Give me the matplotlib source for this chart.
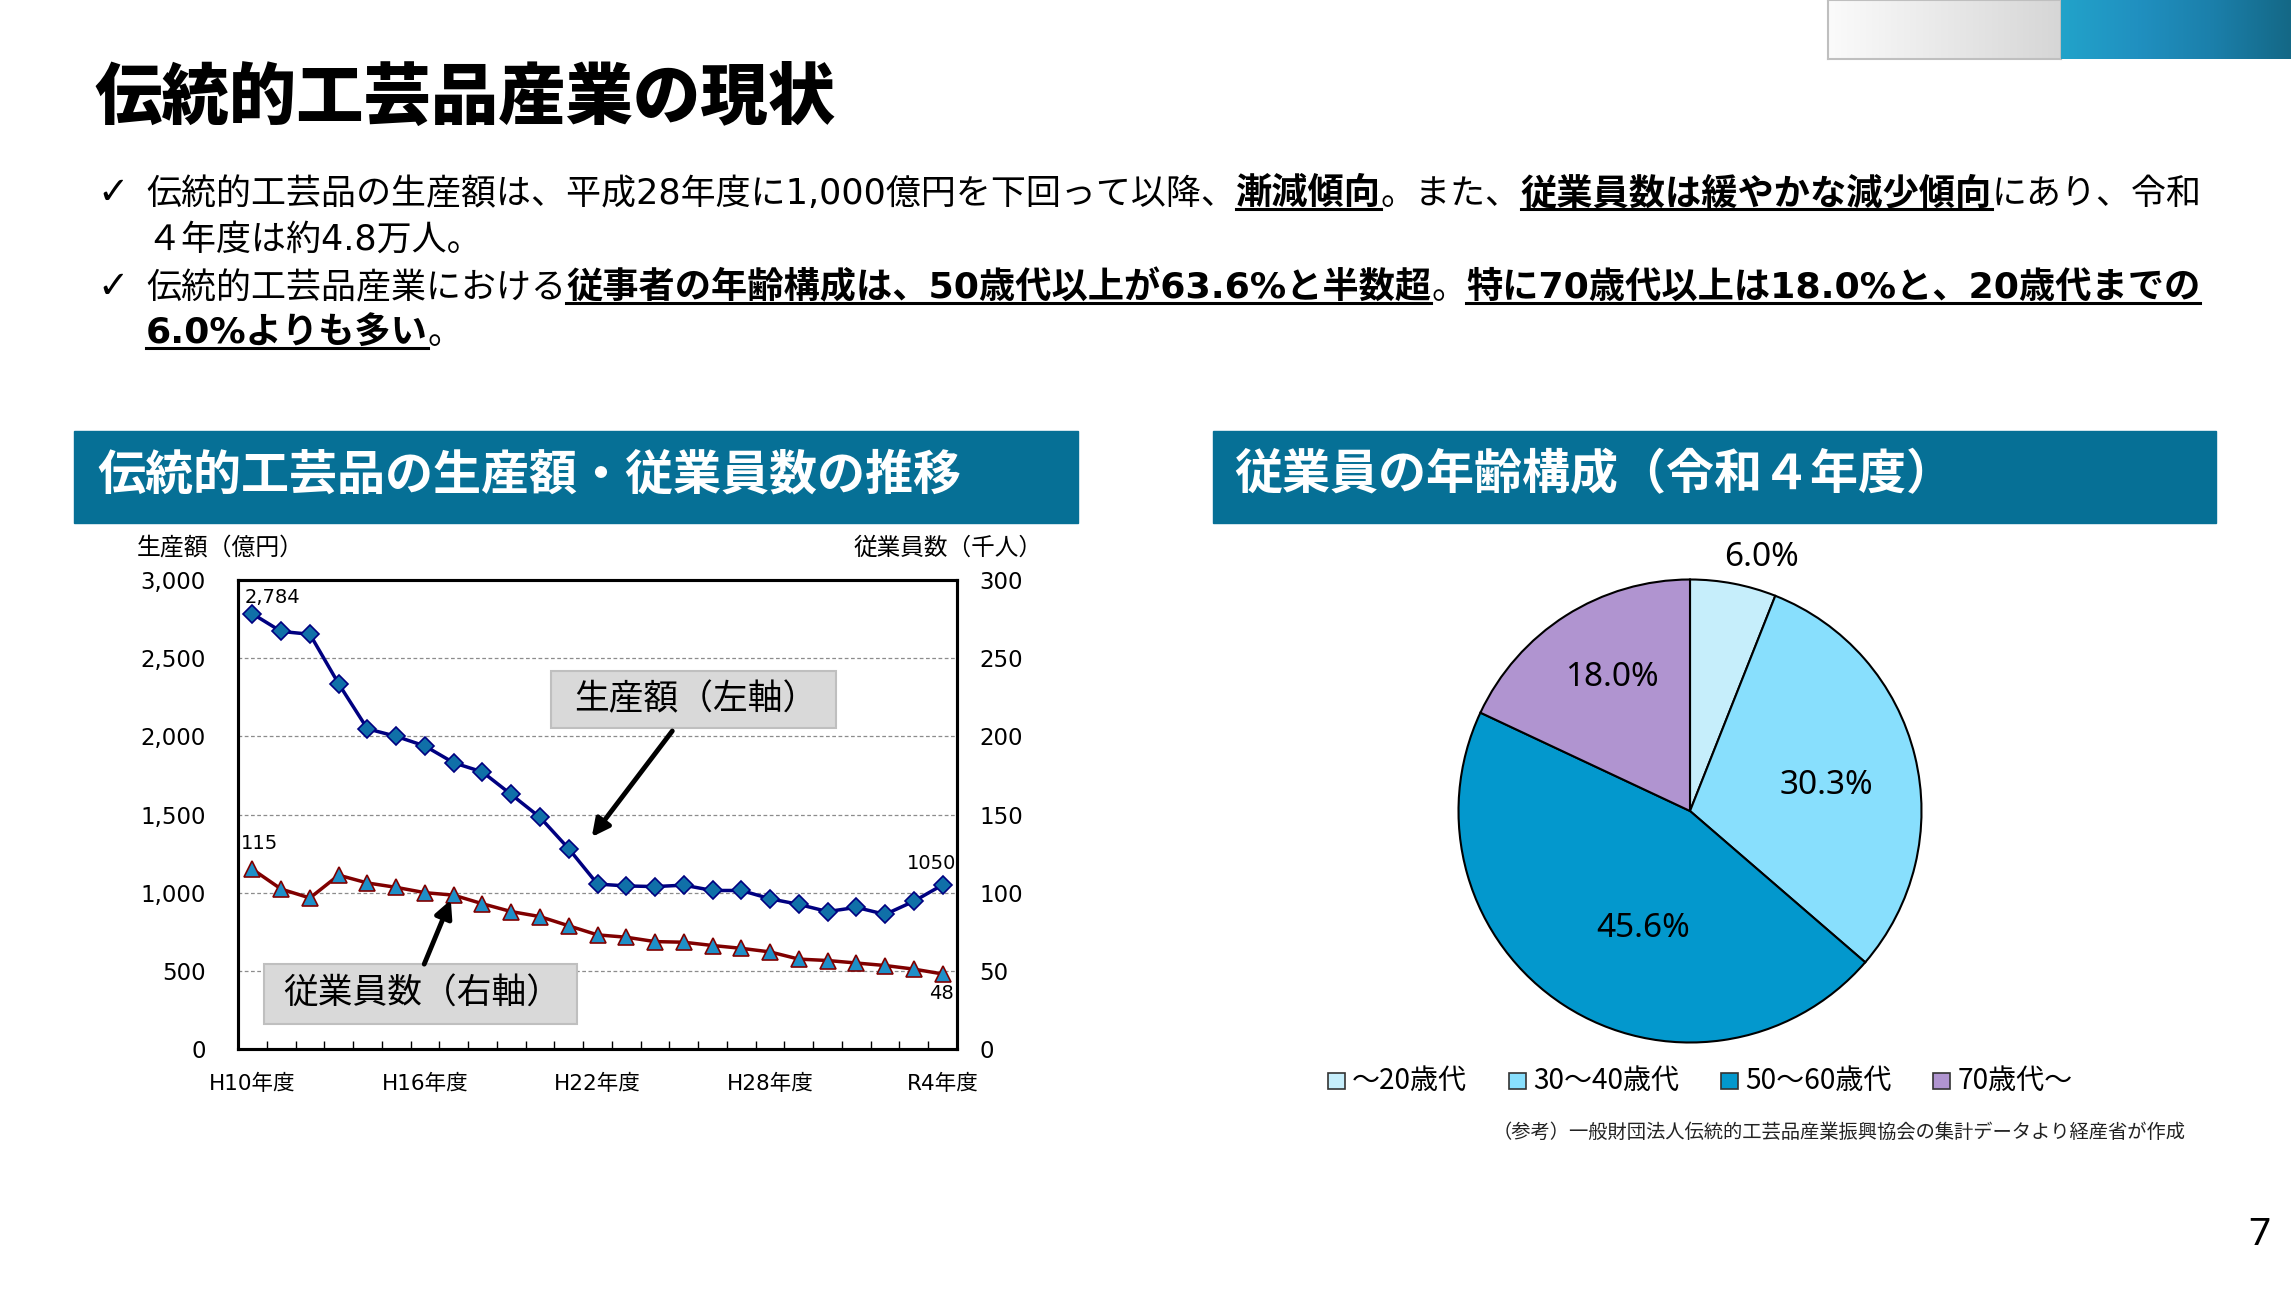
import numpy as np
import matplotlib
matplotlib.use('Agg')
from matplotlib import pyplot as plt
from matplotlib.patches import Rectangle
from matplotlib.lines import Line2D
from matplotlib.colors import LinearSegmentedColormap

plt.rcParams['font.family'] = ['Noto Sans CJK JP', 'DejaVu Sans']
LATIN = ['DejaVu Sans', 'Noto Sans CJK JP']

W, H = 2291, 1289

# 生産額・従業員数の推移
years = ['H10', 'H11', 'H12', 'H13', 'H14', 'H15', 'H16', 'H17', 'H18', 'H19',
         'H20', 'H21', 'H22', 'H23', 'H24', 'H25', 'H26', 'H27', 'H28', 'H29',
         'H30', 'R1', 'R2', 'R3', 'R4']
production = [2784, 2671, 2653, 2336, 2048, 2000, 1938, 1831, 1772, 1628,
              1482, 1281, 1055, 1043, 1039, 1048, 1014, 1014, 961, 925,
              879, 906, 861, 945, 1050]
employees = [115, 102.3, 96.6, 111.2, 106.2, 103.4, 100.0, 98.4, 92.9, 87.9,
             84.7, 78.8, 73.0, 71.5, 68.7, 68.3, 66.2, 64.4, 62.1, 57.5,
             56.6, 55.0, 53.4, 51.1, 48]
year_ticks = ['H10', 'H16', 'H22', 'H28', 'R4']

# 年齢構成
age_labels = ['～20歳代', '30～40歳代', '50～60歳代', '70歳代～']
age_share = [6.0, 30.3, 45.6, 18.0]
age_colors = ['#C6EEFB', '#88DFFD', '#0398CD', '#B094D0']

title = '伝統的工芸品産業の現状'
bullets = [
    [('伝統的工芸品の生産額は、平成28年度に1,000億円を下回って以降、', False),
     ('漸減傾向', True), ('。また、', False),
     ('従業員数は緩やかな減少傾向', True), ('にあり、令和', False)],
    [('４年度は約4.8万人。', False)],
    [('伝統的工芸品産業における', False),
     ('従事者の年齢構成は、50歳代以上が63.6%と半数超', True), ('。', False),
     ('特に70歳代以上は18.0%と、20歳代までの', True)],
    [('6.0%よりも多い', True), ('。', False)],
]
header_left = '伝統的工芸品の生産額・従業員数の推移'
header_right = '従業員の年齢構成（令和４年度）'
source = '（参考）一般財団法人伝統的工芸品産業振興協会の集計データより経産省が作成'


def fx(x):
    return x / W


def fy(y):
    return 1 - y / H


fig = plt.figure(figsize=(W / 100, H / 100), dpi=100)
renderer = fig.canvas.get_renderer()

# 右上の飾り
grey = LinearSegmentedColormap.from_list('g', ['#FBFBFB', '#D6D6D6'])
blue = LinearSegmentedColormap.from_list('b', ['#22A3CA', '#2090C0', '#1B7FAA', '#146886'])
grad = np.linspace(0, 1, 256)[None, :]
for x0, x1, cm in [(1828, 2061, grey), (2061, 2291, blue)]:
    a = fig.add_axes([fx(x0), fy(59), fx(x1 - x0), 59 / H])
    a.imshow(grad, aspect='auto', cmap=cm)
    a.set_xticks([])
    a.set_yticks([])
    for s in a.spines.values():
        s.set_color('#BFBFBF')
        s.set_linewidth(1.5 if cm is grey else 0)

fig.text(fx(94), fy(99), title, fontsize=48.5, fontweight='heavy', va='center', ha='left')

# 箇条書き（太字部分は下線付き）
def rich_line(x, y, runs):
    for txt, bold in runs:
        t = fig.text(fx(x), fy(y), txt, fontsize=26.1 if bold else 25.2, va='baseline',
                     ha='left', family=LATIN, fontweight='bold' if bold else 'normal')
        w = t.get_window_extent(renderer).width
        if bold:
            fig.add_artist(Line2D([fx(x), fx(x + w)], [fy(y + 5)] * 2,
                                  transform=fig.transFigure, color='black', lw=2.2))
        x += w


line_y = [204, 250, 298, 343]
for ly, runs in zip(line_y, bullets):
    rich_line(146, ly, runs)
for ly in (line_y[0], line_y[2]):
    fig.text(fx(97), fy(ly), '✓', fontsize=27, family=['DejaVu Sans'], va='baseline',
             ha='left')

# 見出し帯
for x0, x1, txt, tx in [(74, 1078, header_left, 97), (1213, 2216, header_right, 1234)]:
    fig.add_artist(Rectangle((fx(x0), fy(523)), fx(x1 - x0), 92 / H,
                             transform=fig.transFigure, color='#067096'))
    fig.text(fx(tx), fy(475), txt, fontsize=34.6, fontweight='bold', color='white',
             va='center', ha='left')

# 折れ線グラフ
ax = fig.add_axes([fx(238), fy(1049), fx(957 - 238), (1049 - 580) / H])
x = np.arange(len(years))
ax.plot(x, production, color='#000080', lw=2.5, marker='D', ms=9,
        mfc='#1070A8', mec='#000080', mew=1.2, zorder=3)
ax.set_xlim(-0.5, len(years) - 0.5)
ax.set_ylim(0, 3000)
ax.set_yticks(range(0, 3001, 500))
ax.set_yticklabels([f'{v:,}' for v in range(0, 3001, 500)], family=LATIN)
ax.tick_params(axis='y', length=0, pad=23, labelsize=16.5)
idx = [years.index(t) for t in year_ticks]
ax.set_xticks(idx)
ax.set_xticklabels([t + '年度' for t in year_ticks], family=LATIN)
ax.tick_params(axis='x', length=0, pad=18, labelsize=15.5)
ax.set_xticks(np.arange(0.5, len(years) - 1, 1), minor=True)
ax.tick_params(axis='x', which='minor', direction='in', length=6, width=1)
ax.yaxis.grid(True, linestyle=(0, (3, 2)), color='#8C8C8C', lw=0.9)
ax.set_axisbelow(True)

ax2 = ax.twinx()
ax2.plot(x, employees, color='#800000', lw=2.5, marker='^', ms=11.5,
         mfc='#1E8FC8', mec='#800000', mew=1.2, zorder=3)
ax2.set_ylim(0, 300)
ax2.set_yticks(range(0, 301, 50))
ax2.set_yticklabels([str(v) for v in range(0, 301, 50)], family=LATIN)
ax2.tick_params(axis='y', length=0, pad=16, labelsize=16.5)
for a in (ax, ax2):
    for s in a.spines.values():
        s.set_linewidth(2.2)

ax.annotate(f'{production[0]:,}', (x[0], production[0]), xytext=(-8, 16),
            textcoords='offset pixels', ha='left', va='center', fontsize=14, family=LATIN)
ax.annotate(f'{production[-1]}', (x[-1], production[-1]), xytext=(14, 21),
            textcoords='offset pixels', ha='right', va='center', fontsize=14, family=LATIN)
ax2.annotate(f'{employees[0]}', (x[0], employees[0]), xytext=(-12, 26),
             textcoords='offset pixels', ha='left', va='center', fontsize=14, family=LATIN)
ax2.annotate(f'{employees[-1]}', (x[-1], employees[-1]), xytext=(11, -20),
             textcoords='offset pixels', ha='right', va='center', fontsize=14, family=LATIN)

ax.text(fx(137), fy(548), '生産額（億円）', transform=fig.transFigure, fontsize=17.2,
        ha='left', va='center')
ax.text(fx(1042), fy(548), '従業員数（千人）', transform=fig.transFigure, fontsize=17,
        ha='right', va='center')

for (x0, y0, x1, y1), txt, (tx, ty) in [
        ((0.435, 0.684, 0.832, 0.806), '生産額（左軸）', (0.636, 0.745)),
        ((0.036, 0.053, 0.471, 0.181), '従業員数（右軸）', (0.256, 0.117))]:
    ax2.add_patch(Rectangle((x0, y0), x1 - x0, y1 - y0, transform=ax2.transAxes,
                            facecolor='#D9D9D9', edgecolor='#BFBFBF', lw=1.5, zorder=5))
    ax2.text(tx, ty, txt, transform=ax2.transAxes, fontsize=25, ha='center',
             va='center', zorder=6)
for tail, tip in [((0.604, 0.678), (0.492, 0.452)), ((0.259, 0.181), (0.296, 0.318))]:
    ax2.annotate('', xy=tip, xytext=tail, xycoords='axes fraction',
                 textcoords='axes fraction', zorder=6,
                 arrowprops=dict(arrowstyle='-|>', color='black', lw=3.5,
                                 mutation_scale=26, shrinkA=0, shrinkB=0))

# 円グラフ
R = 231.5
cx, cy = 1690, 811
side = 2 * 1.25 * R
axp = fig.add_axes([fx(cx - side / 2), fy(cy + side / 2), side / W, side / H])
wedges, _ = axp.pie(age_share, colors=age_colors, startangle=90, counterclock=False,
                    wedgeprops=dict(edgecolor='black', linewidth=1.5))
axp.set_xlim(-1.25, 1.25)
axp.set_ylim(-1.25, 1.25)
label_r = [1.14, 0.6, 0.545, 0.668]
label_turn = [-5, -3, 11, -2]
for w, v, r, dt in zip(wedges, age_share, label_r, label_turn):
    ang = np.deg2rad((w.theta1 + w.theta2) / 2 + dt)
    axp.text(r * np.cos(ang), r * np.sin(ang), f'{v:.1f}%', fontsize=24,
             family=['Noto Sans', 'DejaVu Sans'], ha='center', va='center')

# 凡例
lx = 1328
for lab, col in zip(age_labels, age_colors):
    fig.add_artist(Rectangle((fx(lx), fy(1089)), 17 / W, 16 / H, transform=fig.transFigure,
                             facecolor=col, edgecolor='#333333', lw=1.2))
    t = fig.text(fx(lx + 24), fy(1081), lab, fontsize=20.2, ha='left', va='center')
    lx += 24 + t.get_window_extent(renderer).width + 42

fig.text(fx(2186), fy(1132), source, fontsize=13.9, ha='right', va='center', color='#222222')
fig.text(fx(2270), fy(1235), '7', fontsize=28, ha='right', va='center',
         family=['Noto Sans', 'DejaVu Sans'])

fig.savefig('out.png', dpi=100)
